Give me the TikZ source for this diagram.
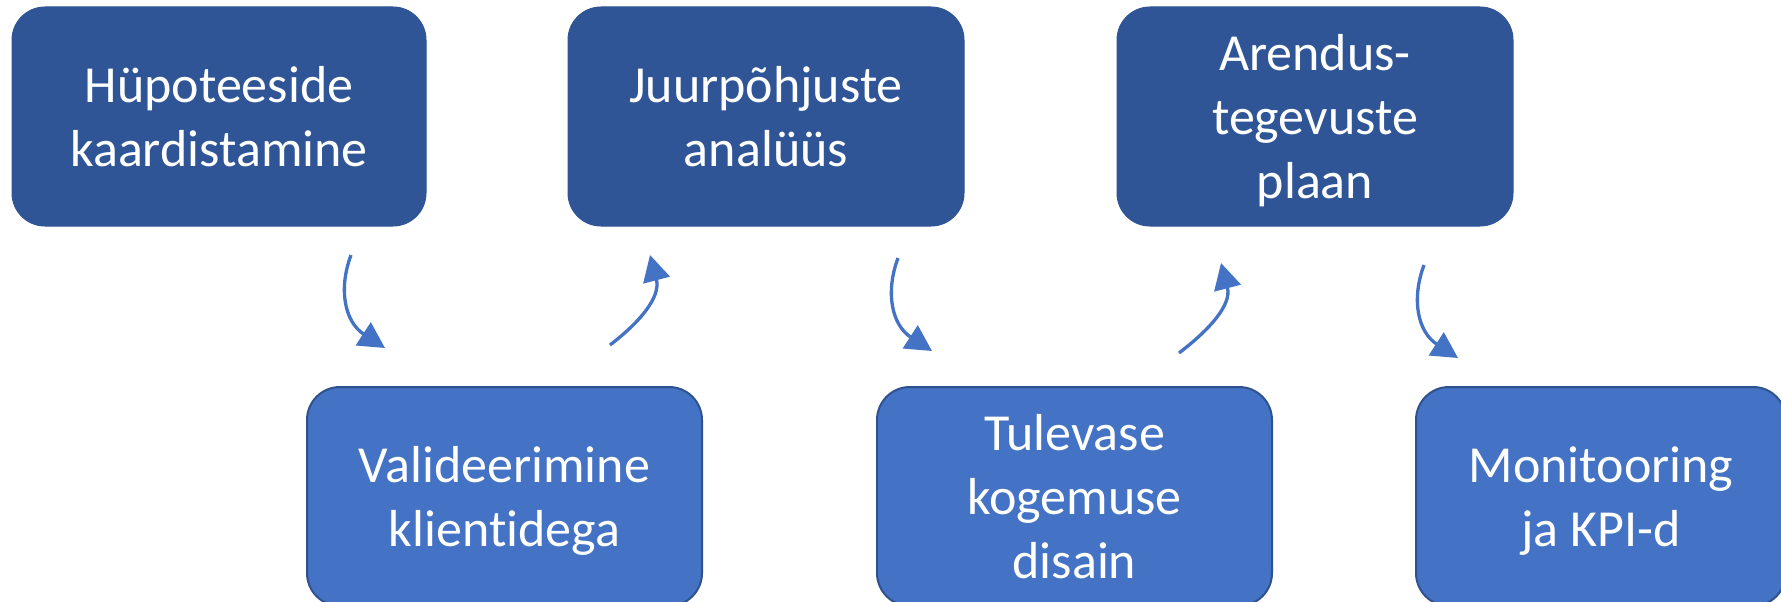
\documentclass[tikz,border=0pt]{standalone}
\usepackage{fontspec}
\setmainfont{Carlito}[Ligatures=NoCommon]
\usetikzlibrary{arrows.meta,calc}
\definecolor{topfill}{HTML}{2F5597}
\definecolor{botfill}{HTML}{4472C4}
\definecolor{botline}{HTML}{2F528F}
\definecolor{arrowcol}{HTML}{4472C4}
\newcommand{\mystrutx}{\rule[-14pt]{0pt}{63.5pt}}
\tikzset{
  boxbase/.style={rectangle, rounded corners=33pt, inner sep=0pt, align=center,
    text=white, font=\fontsize{52}{64}\selectfont},
  topbox/.style={boxbase, fill=topfill, draw=topfill, line width=1pt},
  botbox/.style={boxbase, fill=botfill, draw=botline, line width=2pt},
  flowarrow/.style={draw=arrowcol, line width=3.3pt,
    -{Triangle[length=26pt,width=27pt,fill=arrowcol]}}
}
\begin{document}
\begin{tikzpicture}[x=1pt,y=-1pt]
\useasboundingbox (0,0) rectangle (1781,602);
\clip (0,0) rectangle (1781,602);
\fill[white] (0,0) rectangle (1781,602);
% top row
\node[topbox, minimum width=414pt, minimum height=219pt] (hyp) at (219,116.5)
  {\mystrutx Hüpoteeside\\\mystrutx kaardistamine};
\node[topbox, minimum width=396pt, minimum height=219pt] (juur) at (766,116.5)
  {\mystrutx Juurpõhjuste\\\mystrutx analüüs};
\node[topbox, minimum width=396pt, minimum height=219pt] (aren) at (1315,116.5)
  {\mystrutx Arendus-\\\mystrutx tegevuste\\\mystrutx plaan};
% bottom row
\node[botbox, minimum width=395pt, minimum height=219pt] (vali) at (504.5,496.5)
  {\mystrutx Valideerimine\\\mystrutx klientidega};
\node[botbox, minimum width=395pt, minimum height=219pt] (tule) at (1074.5,496.5)
  {\mystrutx Tulevase\\\mystrutx kogemuse\\\mystrutx disain};
\node[botbox, minimum width=370pt, minimum height=219pt] (moni) at (1601,496.5)
  {\mystrutx Monitooring\\\mystrutx ja KPI-d};
% connector end points
\coordinate (a1s) at (351,255);  \coordinate (a1e) at (385,348);
\coordinate (a2s) at (610,345);  \coordinate (a2e) at (650,255);
\coordinate (a3s) at (898,258);  \coordinate (a3e) at (932,351);
\coordinate (a4s) at (1179,353); \coordinate (a4e) at (1221,263);
\coordinate (a5s) at (1424,265); \coordinate (a5e) at (1458,358);
% connectors
\draw[flowarrow] (a1s) .. controls ($(a1s)+(-13,35)$) and ($(a1e)+(-40,-26)$) .. (a1e);
\draw[flowarrow] (a2s) .. controls ($(a2s)+(30,-23)$) and ($(a2e)+(11,42)$) .. (a2e);
\draw[flowarrow] (a3s) .. controls ($(a3s)+(-13,35)$) and ($(a3e)+(-40,-26)$) .. (a3e);
\draw[flowarrow] (a4s) .. controls ($(a4s)+(30,-23)$) and ($(a4e)+(11,42)$) .. (a4e);
\draw[flowarrow] (a5s) .. controls ($(a5s)+(-13,35)$) and ($(a5e)+(-40,-26)$) .. (a5e);
\end{tikzpicture}
\end{document}
